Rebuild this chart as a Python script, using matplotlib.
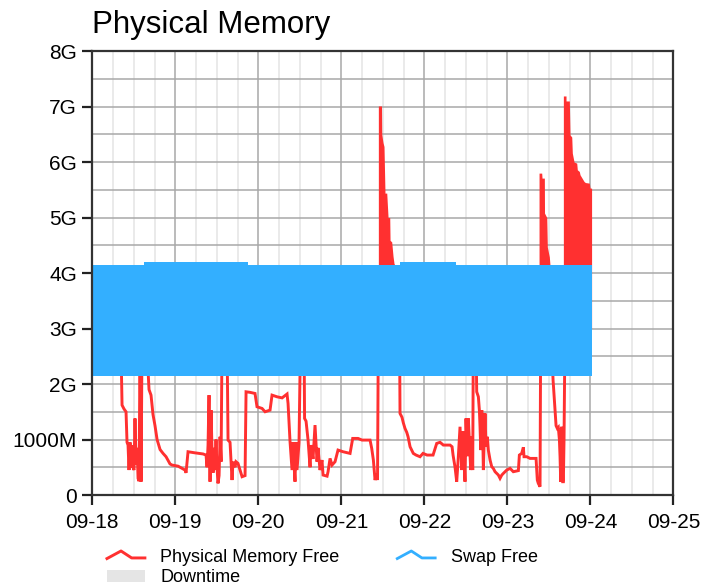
import numpy as np
import matplotlib
matplotlib.use("Agg")
import matplotlib.pyplot as plt
from matplotlib.lines import Line2D
from matplotlib.patches import Patch
from matplotlib.legend_handler import HandlerBase
from matplotlib.ticker import MultipleLocator

plt.rcParams['font.family'] = ['Liberation Sans', 'DejaVu Sans']

# days since 09-18 00:00, values in GB
red_day = [0.000, 0.213, 0.346, 0.358, 0.382, 0.406, 0.418, 0.430, 0.442, 0.454, 0.466, 0.478,
           0.490, 0.502, 0.514, 0.527, 0.539, 0.551, 0.563, 0.575, 0.587, 0.599, 0.659, 0.683,
           0.707, 0.731, 0.755, 0.780, 0.816, 0.852, 0.888, 0.936, 0.960, 1.033, 1.117, 1.129,
           1.153, 1.237, 1.334, 1.370, 1.382, 1.394, 1.406, 1.418, 1.430, 1.442, 1.454, 1.466,
           1.478, 1.490, 1.502, 1.514, 1.527, 1.539, 1.551, 1.563, 1.623, 1.635, 1.659, 1.683,
           1.695, 1.719, 1.731, 1.755, 1.780, 1.804, 1.840, 1.852, 1.900, 1.960, 1.984, 2.045,
           2.081, 2.141, 2.165, 2.225, 2.286, 2.346, 2.358, 2.382, 2.406, 2.418, 2.430, 2.442,
           2.454, 2.466, 2.490, 2.508, 2.551, 2.557, 2.575, 2.599, 2.623, 2.635, 2.659, 2.683,
           2.707, 2.719, 2.743, 2.767, 2.780, 2.828, 2.840, 2.864, 2.888, 2.924, 2.960, 3.020,
           3.105, 3.137, 3.201, 3.249, 3.346, 3.366, 3.386, 3.406, 3.427, 3.436, 3.446, 3.701,
           3.707, 3.731, 3.747, 3.767, 3.788, 3.804, 3.828, 3.867, 3.900, 3.948, 3.984, 4.033,
           4.069, 4.105, 4.149, 4.189, 4.229, 4.286, 4.310, 4.334, 4.346, 4.370, 4.390, 4.406,
           4.430, 4.451, 4.466, 4.490, 4.502, 4.518, 4.530, 4.542, 4.559, 4.571, 4.583, 4.590,
           4.623, 4.631, 4.651, 4.663, 4.671, 4.680, 4.692, 4.704, 4.711, 4.731, 4.743, 4.759,
           4.771, 4.792, 4.812, 4.831, 4.852, 4.892, 4.912, 4.933, 4.952, 4.993, 5.033, 5.072,
           5.133, 5.145, 5.173, 5.193, 5.201, 5.234, 5.273, 5.346, 5.354, 5.361, 5.373, 5.394,
           5.402, 5.527, 5.551, 5.587, 5.602, 5.614, 5.627, 5.635, 5.643, 5.655, 5.667, 5.675,
           5.683, 5.695, 5.990]
red_gb = [2.90, 2.80, 2.60, 1.62, 1.55, 1.50, 0.95, 0.90, 0.45, 0.95, 0.50, 0.90,
          0.50, 0.45, 1.38, 0.55, 0.85, 0.30, 0.25, 2.80, 0.24, 2.80, 2.60, 1.90,
          1.80, 1.45, 1.25, 1.00, 0.82, 0.75, 0.69, 0.56, 0.54, 0.52, 0.45, 0.40,
          0.78, 0.76, 0.74, 0.72, 0.50, 0.90, 1.80, 0.24, 1.53, 0.80, 0.40, 0.85,
          0.45, 1.00, 0.50, 0.21, 0.35, 1.05, 0.60, 2.80, 2.80, 0.99, 0.95, 0.27,
          0.60, 0.50, 0.60, 0.57, 0.45, 0.33, 0.35, 1.86, 1.85, 1.83, 1.59, 1.56,
          1.50, 1.53, 1.80, 1.77, 1.75, 1.82, 1.65, 0.96, 0.45, 0.95, 0.55, 0.24,
          0.95, 0.45, 0.94, 2.80, 2.80, 1.38, 1.33, 0.99, 0.50, 0.90, 0.65, 1.26,
          0.60, 0.85, 0.45, 0.63, 0.36, 0.34, 0.42, 0.66, 0.54, 0.60, 0.81, 0.78,
          0.75, 1.02, 1.02, 0.99, 0.99, 0.84, 0.63, 0.27, 0.39, 0.27, 3.00, 3.00,
          1.47, 1.40, 1.30, 1.20, 1.13, 1.05, 0.87, 0.75, 0.72, 0.69, 0.75, 0.72,
          0.72, 0.72, 0.93, 0.95, 0.90, 0.90, 0.90, 0.87, 0.72, 0.50, 0.24, 0.60,
          1.23, 0.45, 1.15, 0.24, 1.38, 0.70, 1.38, 0.99, 0.45, 1.05, 0.45, 2.80,
          2.80, 1.86, 1.77, 1.53, 1.23, 0.81, 1.53, 1.05, 0.45, 1.47, 0.87, 1.05,
          0.81, 0.63, 0.51, 0.48, 0.42, 0.36, 0.30, 0.36, 0.39, 0.45, 0.48, 0.42,
          0.44, 0.72, 0.75, 0.86, 0.69, 0.69, 0.66, 0.66, 0.45, 0.27, 0.21, 0.15,
          3.00, 3.00, 2.07, 1.25, 1.20, 1.22, 1.00, 0.69, 0.24, 1.23, 0.24, 0.24,
          1.00, 3.00, 3.00]

# peaks of the fast oscillating physical memory series
spike1_day = [3.446, 3.484, 3.487, 3.502, 3.514, 3.526, 3.547, 3.563, 3.583, 3.587, 3.607, 3.623, 3.635, 3.647]
spike1_gb = [7.01, 7.01, 6.50, 6.35, 6.28, 5.44, 5.44, 5.00, 5.00, 4.59, 4.56, 4.30, 4.17, 4.14]
spike2_day = [5.382, 5.414, 5.418, 5.446, 5.448, 5.475, 5.482, 5.506, 5.514]
spike2_gb = [5.80, 5.80, 5.71, 5.71, 5.08, 5.00, 4.47, 4.29, 4.14]
spike3_day = [5.675, 5.707, 5.707, 5.747, 5.755, 5.776, 5.783, 5.804, 5.836, 5.843, 5.867,
              5.876, 5.904, 5.924, 5.940, 5.988, 5.996, 6.015]
spike3_gb = [7.19, 7.19, 7.10, 7.10, 6.49, 6.45, 6.16, 6.00, 5.98, 5.86, 5.83,
             5.77, 5.70, 5.65, 5.63, 5.62, 5.53, 5.53]
spike_base = 3.0

# swap free swings between these two levels
swap_edges = [0.0, 0.62, 1.88, 3.71, 4.38, 6.025]
swap_high = [4.14, 4.19, 4.14, 4.19, 4.14, 4.14]
swap_low = 2.14

day_labels = ['09-18', '09-19', '09-20', '09-21', '09-22', '09-23', '09-24', '09-25']
y_ticks = [0, 1, 2, 3, 4, 5, 6, 7, 8]
y_labels = ['0', '1000M', '2G', '3G', '4G', '5G', '6G', '7G', '8G']

red = '#ff3030'
blue = '#33afff'


class ZigZagHandler(HandlerBase):
    def create_artists(self, legend, orig_handle, xdescent, ydescent,
                       width, height, fontsize, trans):
        xs = np.array([0.0, 0.37, 0.65, 1.0]) * width - xdescent
        ys = np.array([0.25, 0.85, 0.3, 0.3]) * height - ydescent
        line = Line2D(xs, ys, color=orig_handle.get_color(),
                      lw=orig_handle.get_linewidth(), transform=trans)
        return [line]


fig = plt.figure(figsize=(7.18, 5.85), dpi=100)
ax = fig.add_axes([0.1286, 0.1538, 0.9378 - 0.1286, 0.9128 - 0.1538])

# physical memory (below the swap band)
red_line, = ax.plot(red_day, red_gb, color=red, lw=2.1, solid_joinstyle='miter', zorder=2)
for sd, sg in [(spike1_day, spike1_gb), (spike2_day, spike2_gb), (spike3_day, spike3_gb)]:
    ax.fill_between(sd, spike_base, sg, color=red, lw=0, zorder=2)

# swap free band on top
ax.fill_between(swap_edges, swap_low, swap_high, step='post', color=blue, lw=0, zorder=3)
swap_handle = Line2D([], [], color=blue, lw=2.0)

ax.set_xlim(0, 7)
ax.set_ylim(0, 8)
ax.set_xticks(range(8))
ax.set_xticklabels(day_labels)
ax.set_yticks(y_ticks)
ax.set_yticklabels(y_labels)
ax.xaxis.set_minor_locator(MultipleLocator(0.25))
ax.yaxis.set_minor_locator(MultipleLocator(0.5))

ax.set_axisbelow(True)
ax.grid(which='major', axis='both', color='#a8a8a8', lw=1.1)
ax.grid(which='minor', axis='x', color='#e4e4e4', lw=1.1)
ax.grid(which='minor', axis='y', color='#a8a8a8', lw=1.1)

for s in ax.spines.values():
    s.set_color('#333333')
    s.set_linewidth(1.6)
    s.set_zorder(4)
ax.tick_params(which='major', length=7, width=1.6, color='#222222',
               labelsize=15, pad=4)
ax.tick_params(axis='x', which='major', pad=6)
ax.tick_params(which='minor', length=0)

ax.set_title('Physical Memory', loc='left', fontsize=22.5, pad=13)

fig.legend([red_line, Patch(facecolor='#e5e5e5'), swap_handle],
           ['Physical Memory Free', 'Downtime', 'Swap Free'],
           handler_map={Line2D: ZigZagHandler()},
           ncol=2, frameon=False, fontsize=13,
           loc='upper left', bbox_to_anchor=(0.149, 0.062),
           borderpad=0, borderaxespad=0, handlelength=2.1, handletextpad=0.85,
           columnspacing=3.2, labelspacing=0.2)

fig.savefig('out.png', dpi=100)
